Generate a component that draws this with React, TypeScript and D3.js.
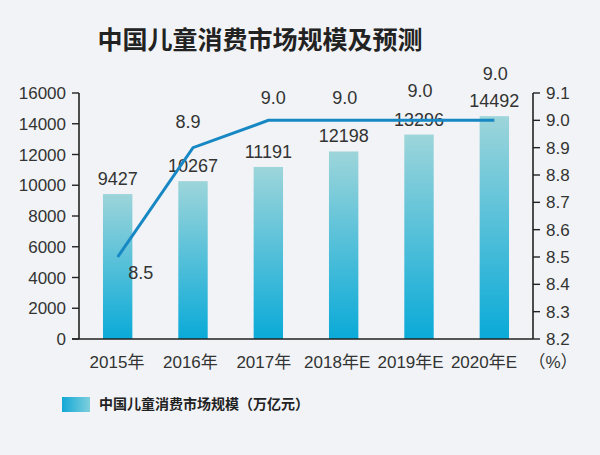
import React from "react";
import * as d3 from "d3";

const title = "中国儿童消费市场规模及预测";
const categories = ["2015年", "2016年", "2017年", "2018年E", "2019年E", "2020年E"];
const marketSize = [9427, 10267, 11191, 12198, 13296, 14492];
const growthRate = [8.5, 8.9, 9.0, 9.0, 9.0, 9.0];
const leftTicks = [0, 2000, 4000, 6000, 8000, 10000, 12000, 14000, 16000];
const rightTicks = [8.2, 8.3, 8.4, 8.5, 8.6, 8.7, 8.8, 8.9, 9.0, 9.1];
const legendLabel = "中国儿童消费市场规模（万亿元）";
const rightUnit = "（%）";

// label nudges for the rate labels (layout only)
const rateLabelDx = [23, -5, 5, 1, 1, 1];
const rateLabelDy = [22, -20, -16, -16, -23, -40];

const W = 600;
const H = 455;
const FONT = "'Liberation Sans', Arial, 'Noto Sans CJK SC', sans-serif";
const CJK = "'Noto Sans CJK SC', 'Liberation Sans', sans-serif";

export default function App() {
  const left = 79;
  const right = 533;
  const top = 93;
  const bottom = 339;

  const x = d3.scaleBand<string>().domain(categories).range([left + 1, right - 1]).padding(0);
  const yL = d3.scaleLinear().domain([0, 16000]).range([bottom, top]);
  const yR = d3.scaleLinear().domain([8.2, 9.1]).range([bottom, top]);
  const xLabel = d3.scalePoint<string>().domain(categories).range([117, 484]);

  const barW = x.bandwidth() * 0.39;
  const cx = (c: string) => (x(c) as number) + x.bandwidth() / 2;

  const line = d3
    .line<number>()
    .x((_, i) => cx(categories[i]))
    .y((d) => yR(d));

  const textColor = "#333";

  return (
    <div style={{ position: "fixed", left: 0, top: 0, width: W, height: H }}>
      <svg width={W} height={H} style={{ display: "block", background: "#f1f3f6" }}>
        <defs>
          <linearGradient id="barGrad" x1="0" y1="0" x2="0" y2="1">
            <stop offset="0%" stopColor="#9dd5da" />
            <stop offset="100%" stopColor="#0aaad8" />
          </linearGradient>
          <linearGradient id="legGrad" x1="0" y1="0" x2="1" y2="0">
            <stop offset="0%" stopColor="#12a8d6" />
            <stop offset="100%" stopColor="#7fcfdc" />
          </linearGradient>
        </defs>

        <text x={260} y={49} textAnchor="middle" fontFamily={CJK} fontWeight="bold" fontSize={25} fill="#222">
          {title}
        </text>

        {/* bars */}
        {categories.map((c, i) => (
          <rect
            key={c}
            x={cx(c) - barW / 2}
            y={yL(marketSize[i])}
            width={barW}
            height={bottom - yL(marketSize[i])}
            fill="url(#barGrad)"
          />
        ))}

        {/* bar value labels */}
        {categories.map((c, i) => (
          <text
            key={"bv" + c}
            x={cx(c)}
            y={yL(marketSize[i]) - 9}
            textAnchor="middle"
            fontFamily={FONT}
            fontSize={18}
            fill={textColor}
          >
            {marketSize[i]}
          </text>
        ))}

        {/* line */}
        <path d={line(growthRate) || ""} fill="none" stroke="#1888c4" strokeWidth={3} />

        {/* rate labels */}
        {categories.map((c, i) => (
          <text
            key={"rl" + c}
            x={cx(c) + rateLabelDx[i]}
            y={yR(growthRate[i]) + rateLabelDy[i]}
            textAnchor="middle"
            fontFamily={FONT}
            fontSize={18}
            fill={textColor}
          >
            {growthRate[i].toFixed(1)}
          </text>
        ))}

        {/* left axis */}
        <line x1={left} x2={left} y1={top} y2={bottom} stroke="#222" strokeWidth={1.6} />
        {leftTicks.map((t) => (
          <g key={"lt" + t}>
            <line x1={left - 7} x2={left} y1={yL(t)} y2={yL(t)} stroke="#222" strokeWidth={1.4} />
            <text x={left - 13} y={yL(t) + 6} textAnchor="end" fontFamily={FONT} fontSize={17} fill={textColor}>
              {t}
            </text>
          </g>
        ))}

        {/* right axis */}
        <line x1={right} x2={right} y1={top} y2={bottom} stroke="#222" strokeWidth={1.6} />
        {rightTicks.map((t) => (
          <g key={"rt" + t}>
            <line x1={right} x2={right + 7} y1={yR(t)} y2={yR(t)} stroke="#222" strokeWidth={1.4} />
            <text x={right + 13} y={yR(t) + 6} textAnchor="start" fontFamily={FONT} fontSize={17} fill={textColor}>
              {t.toFixed(1)}
            </text>
          </g>
        ))}

        {/* bottom axis */}
        <line x1={left - 7} x2={right} y1={bottom} y2={bottom} stroke="#222" strokeWidth={1.6} />
        {categories.map((c) => (
          <text
            key={"xl" + c}
            x={xLabel(c)}
            y={368}
            textAnchor="middle"
            fontFamily={FONT}
            fontSize={17}
            fill={textColor}
          >
            {c}
          </text>
        ))}
        <text x={553} y={368} textAnchor="middle" fontFamily={FONT} fontSize={17} fill={textColor}>
          {rightUnit}
        </text>

        {/* legend */}
        <rect x={62} y={397} width={28} height={15} fill="url(#legGrad)" />
        <text x={99} y={409} fontFamily={CJK} fontWeight="bold" fontSize={14} fill="#222">
          {legendLabel}
        </text>
      </svg>
    </div>
  );
}
